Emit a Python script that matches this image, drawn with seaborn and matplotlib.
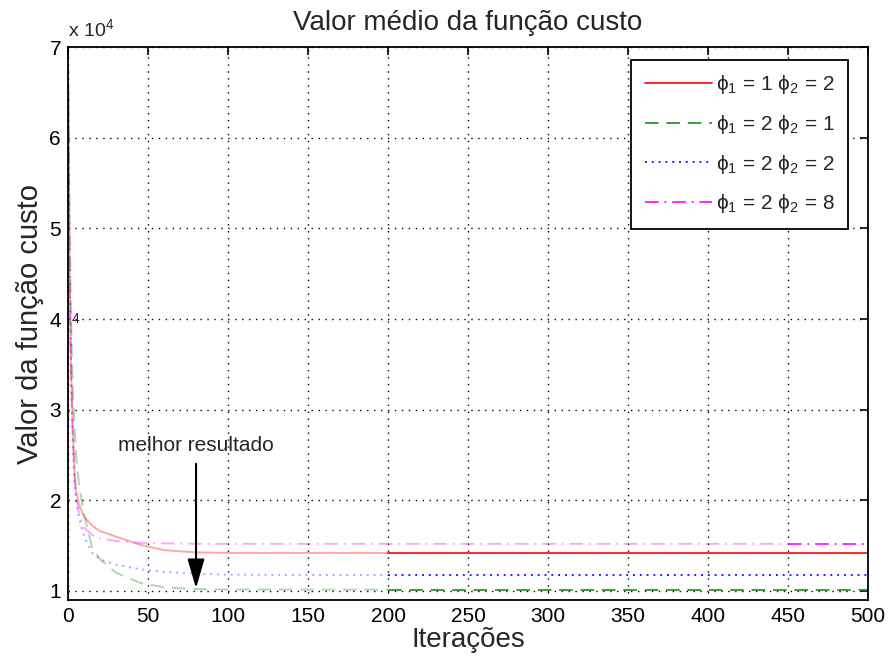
import numpy as np
import pandas as pd
import matplotlib
matplotlib.use("Agg")
import matplotlib.pyplot as plt
from matplotlib.ticker import FuncFormatter, MultipleLocator
import seaborn as sns

# Mean cost per iteration for each (phi1, phi2) configuration
iteracoes = [0, 1, 2, 3, 4, 5, 7, 10, 15, 20, 30, 45, 60, 80, 100, 150,
             200, 250, 300, 350, 400, 450, 500]
custo_p1_1_p2_2 = [68000, 46000, 34000, 28000, 23500, 21000, 19500, 18200, 17200,
                   16600, 16000, 15100, 14500, 14250, 14200, 14200,
                   14200, 14200, 14200, 14200, 14200, 14200, 14200]
custo_p1_2_p2_1 = [68000, 50000, 39000, 32000, 28500, 25000, 21500, 18500, 14800,
                   13500, 12000, 10900, 10400, 10200, 10150, 10140,
                   10140, 10140, 10140, 10140, 10140, 10140, 10140]
custo_p1_2_p2_2 = [68000, 45000, 33000, 26000, 22000, 20000, 18000, 16000, 14200,
                   13500, 12900, 12400, 12100, 11900, 11800, 11760,
                   11760, 11760, 11760, 11760, 11760, 11760, 11760]
custo_p1_2_p2_8 = [68000, 44000, 33000, 27000, 23000, 20500, 18500, 17000, 16200,
                   15800, 15500, 15300, 15250, 15200, 15200, 15200,
                   15200, 15200, 15200, 15200, 15200, 15200, 15200]

rotulos = [r"$\mathregular{\phi_1}$ = 1 $\mathregular{\phi_2}$ = 2",
           r"$\mathregular{\phi_1}$ = 2 $\mathregular{\phi_2}$ = 1",
           r"$\mathregular{\phi_1}$ = 2 $\mathregular{\phi_2}$ = 2",
           r"$\mathregular{\phi_1}$ = 2 $\mathregular{\phi_2}$ = 8"]

seta_x, seta_y = 80, 10300

sns.set_style("white")
plt.rcParams["font.family"] = ["Liberation Sans", "DejaVu Sans"]
plt.rcParams["mathtext.fontset"] = "custom"
plt.rcParams["mathtext.rm"] = "Liberation Sans"
plt.rcParams["mathtext.it"] = "Liberation Sans:italic"

fig = plt.figure(figsize=(8.88, 6.63), dpi=100)
ax = fig.add_axes([0.0766, 0.095, 0.9009, 0.834])

series = [
    (custo_p1_1_p2_2, "#ff0000", "-", 200),
    (custo_p1_2_p2_1, "#1f8a1f", (0, (7, 4)), 200),
    (custo_p1_2_p2_2, "#0000ff", (0, (1, 2.5)), 200),
    (custo_p1_2_p2_8, "#ff00ff", (0, (7, 3, 1, 3)), 450),
]

x = np.array(iteracoes)
for (valores, cor, estilo, corte), rotulo in zip(series, rotulos):
    y = np.array(valores)
    inicio = x <= corte
    fim = x >= corte
    sns.lineplot(x=x[inicio], y=y[inicio], color=cor, alpha=0.35, lw=1.4,
                 linestyle=estilo, ax=ax, estimator=None, sort=False)
    sns.lineplot(x=x[fim], y=y[fim], color=cor, alpha=0.85, lw=1.4,
                 linestyle=estilo, ax=ax, estimator=None, sort=False, label=rotulo)

ax.set_xlim(0, 500)
ax.set_ylim(9000, 70000)
ax.xaxis.set_major_locator(MultipleLocator(50))
ax.yaxis.set_major_locator(MultipleLocator(10000))
ax.yaxis.set_major_formatter(FuncFormatter(lambda v, p: f"{v / 1e4:g}"))
ax.grid(True, color="black", linestyle=(0, (1, 4)), linewidth=1.0)
ax.tick_params(direction="in", length=6, width=1.2, top=True, right=True,
               labelsize=15, colors="black", pad=5)
for sp in ax.spines.values():
    sp.set_linewidth(1.3)
    sp.set_color("black")

ax.set_title("Valor médio da função custo", fontsize=20, pad=12)
ax.set_xlabel("Iterações", fontsize=20, labelpad=1)
ax.set_ylabel("Valor da função custo", fontsize=21, labelpad=4)
ax.text(0.0, 1.012, r"x 10$^{4}$", transform=ax.transAxes, fontsize=14,
        ha="left", va="bottom")
ax.text(2, 40000, "4", fontsize=10, ha="left", va="center")

ax.annotate("melhor resultado", xy=(seta_x, seta_y), xytext=(seta_x, 25000),
            ha="center", va="bottom", fontsize=15,
            arrowprops=dict(arrowstyle="-|>,head_width=0.35,head_length=1.2",
                            color="black", lw=1.5, shrinkA=4, shrinkB=0))

leg = ax.legend(loc="upper right", fontsize=15, frameon=True, fancybox=False,
                handlelength=3.2, borderpad=0.65, labelspacing=0.8,
                bbox_to_anchor=(0.975, 0.977), borderaxespad=0,
                handletextpad=0.2)
leg.get_frame().set_edgecolor("black")
leg.get_frame().set_linewidth(1.3)
leg.get_frame().set_alpha(1)

fig.savefig("out.png", dpi=100)
